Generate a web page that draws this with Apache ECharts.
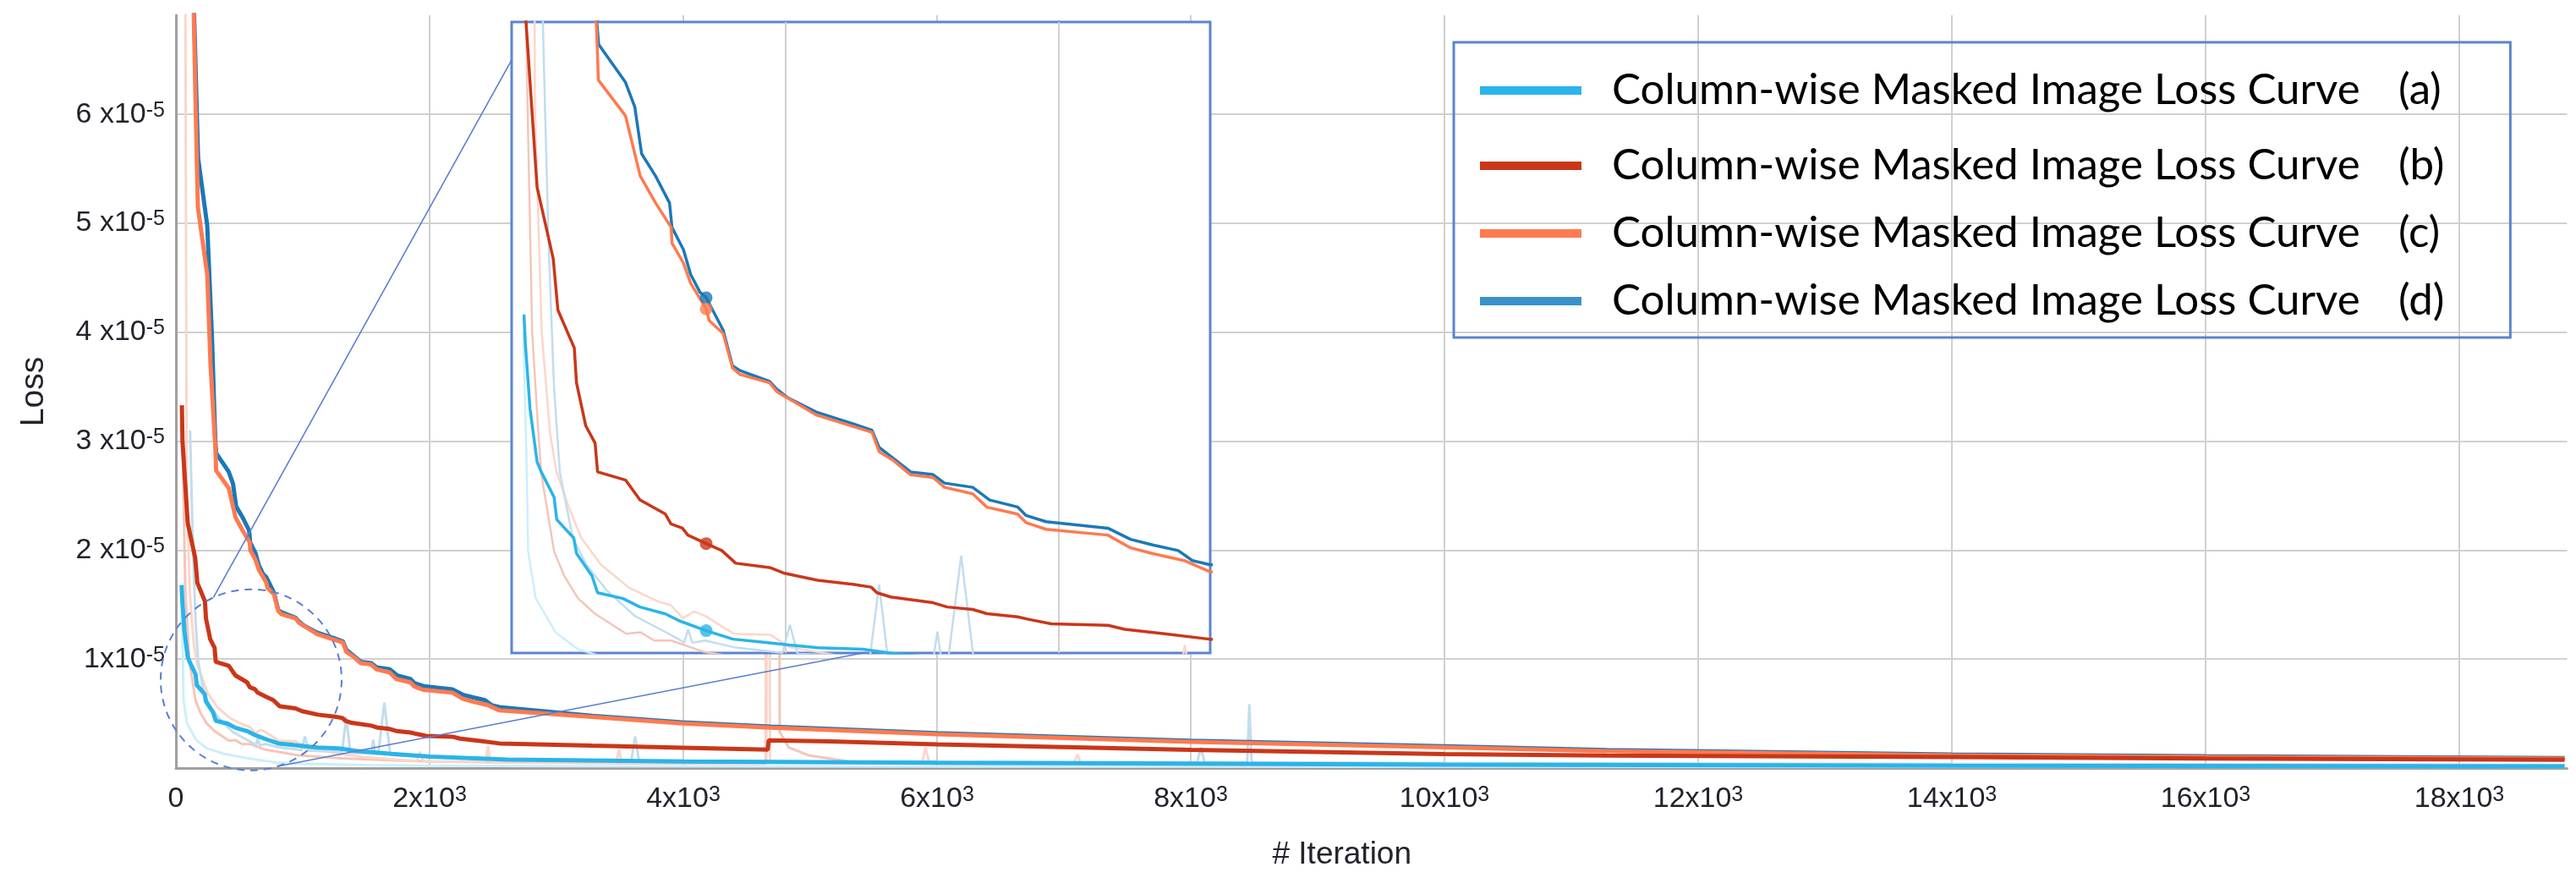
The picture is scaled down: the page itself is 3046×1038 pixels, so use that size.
<!DOCTYPE html>
<html>
<head>
<meta charset="utf-8">
<script src="https://cdn.jsdelivr.net/npm/echarts@6/dist/echarts.min.js"></script>
<style>
html,body{margin:0;padding:0;background:#fff;}
#c{width:3046px;height:1038px;}
</style>
</head>
<body>
<div id="c"></div>
<script>
// ---------------- DATA ----------------
const seriesNames = [
  'Column-wise Masked Image Loss Curve (a)',
  'Column-wise Masked Image Loss Curve (b)',
  'Column-wise Masked Image Loss Curve (c)',
  'Column-wise Masked Image Loss Curve (d)'
];
const xTickValues = [0, 2000, 4000, 6000, 8000, 10000, 12000, 14000, 16000, 18000];
const yTickValues = [1, 2, 3, 4, 5, 6]; // in units of 1e-5
const insetYTicks = [0.2e-5,0.4e-5,0.6e-5,0.8e-5,1.0e-5,1.2e-5,1.4e-5,1.6e-5,1.8e-5,2.0e-5,2.2e-5,2.4e-5,2.6e-5,2.8e-5];

// smoothed curves [iteration, loss]
const lossA = [[45,1.68e-5],[50,1.55e-5],[67,1.26e-5],[93,1.02e-5],[108,0.975e-5],[155,0.862e-5],[165,0.761e-5],[227,0.679e-5],[237,0.61e-5],[294,0.509e-5],[314,0.434e-5],[407,0.408e-5],[469,0.37e-5],[562,0.339e-5],[613,0.308e-5],[711,0.264e-5],[809,0.226e-5],[912,0.213e-5],[1015,0.2e-5],[1118,0.188e-5],[1283,0.181e-5],[1420,0.157e-5],[1700,0.13e-5],[2007,0.104e-5],[2613,0.077e-5],[4000,0.06e-5],[6000,0.049e-5],[8000,0.04e-5],[10000,0.031e-5],[14000,0.022e-5],[18830,0.016e-5]];
const lossB = [[47,3.33e-5],[52,3.0e-5],[93,2.25e-5],[152,1.93e-5],[169,1.70e-5],[229,1.53e-5],[237,1.374e-5],[271,1.181e-5],[305,1.104e-5],[314,0.975e-5],[417,0.938e-5],[469,0.85e-5],[562,0.786e-5],[582,0.742e-5],[624,0.723e-5],[644,0.692e-5],[711,0.654e-5],[768,0.623e-5],[819,0.566e-5],[943,0.547e-5],[994,0.522e-5],[1118,0.49e-5],[1252,0.471e-5],[1314,0.459e-5],[1335,0.434e-5],[1385,0.415e-5],[1540,0.389e-5],[1592,0.37e-5],[1685,0.359e-5],[1737,0.34e-5],[1849,0.326e-5],[1892,0.314e-5],[1972,0.295e-5],[2179,0.288e-5],[2241,0.27e-5],[2386,0.25e-5],[2550,0.226e-5],[3280,0.205e-5],[3993,0.186e-5],[4665,0.168e-5],[4673,0.255e-5],[5153,0.245e-5],[6000,0.218e-5],[8000,0.167e-5],[10000,0.128e-5],[11280,0.114e-5],[14000,0.10e-5],[16000,0.088e-5],[18830,0.076e-5]];
const lossC = [[140,9.0e-5],[141,6.9e-5],[157,6.0e-5],[173,5.15e-5],[247,4.53e-5],[273,3.70e-5],[305,3.05e-5],[310,2.97e-5],[317,2.73e-5],[416,2.57e-5],[470,2.30e-5],[526,2.18e-5],[583,2.07e-5],[586,2.0e-5],[628,1.91e-5],[654,1.82e-5],[711,1.705e-5],[722,1.653e-5],[773,1.595e-5],[807,1.441e-5],[833,1.412e-5],[943,1.374e-5],[969,1.335e-5],[1113,1.23e-5],[1317,1.152e-5],[1343,1.066e-5],[1394,1.027e-5],[1458,0.962e-5],[1540,0.95e-5],[1582,0.906e-5],[1685,0.877e-5],[1737,0.817e-5],[1849,0.786e-5],[1880,0.748e-5],[1953,0.718e-5],[2179,0.692e-5],[2262,0.635e-5],[2343,0.609e-5],[2458,0.578e-5],[2550,0.529e-5],[3280,0.47e-5],[3993,0.41e-5],[4687,0.37e-5],[5153,0.35e-5],[6000,0.31e-5],[8000,0.24e-5],[10000,0.19e-5],[11280,0.155e-5],[14000,0.116e-5],[16000,0.10e-5],[18830,0.085e-5]];
const lossD = [[143,9.0e-5],[144,6.9e-5],[175,5.6e-5],[247,4.98e-5],[285,3.94e-5],[305,3.2e-5],[312,2.98e-5],[318,2.89e-5],[416,2.72e-5],[450,2.61e-5],[475,2.40e-5],[526,2.30e-5],[577,2.18e-5],[586,2.07e-5],[628,1.97e-5],[654,1.86e-5],[688,1.78e-5],[711,1.755e-5],[773,1.61e-5],[807,1.45e-5],[833,1.43e-5],[943,1.38e-5],[969,1.345e-5],[1011,1.306e-5],[1113,1.243e-5],[1249,1.19e-5],[1317,1.162e-5],[1343,1.085e-5],[1394,1.037e-5],[1458,0.975e-5],[1540,0.963e-5],[1582,0.925e-5],[1685,0.906e-5],[1747,0.849e-5],[1849,0.818e-5],[1880,0.78e-5],[1953,0.752e-5],[2179,0.723e-5],[2262,0.673e-5],[2343,0.648e-5],[2436,0.623e-5],[2488,0.578e-5],[2550,0.56e-5],[3280,0.48e-5],[3993,0.42e-5],[4687,0.38e-5],[5153,0.36e-5],[6000,0.32e-5],[8000,0.25e-5],[10000,0.20e-5],[11280,0.165e-5],[14000,0.125e-5],[16000,0.108e-5],[18830,0.092e-5]];

// raw (faint) curves
const rawA = [[42,1.6e-5],[55,1.0e-5],[60,0.62e-5],[88,0.41e-5],[160,0.257e-5],[242,0.181e-5],[380,0.13e-5],[587,0.085e-5],[787,0.05e-5],[1000,0.038e-5],[1500,0.028e-5],[2000,0.022e-5],[3000,0.017e-5],[6000,0.013e-5],[12000,0.011e-5],[18830,0.01e-5]];
const rawB = [[48,3.3e-5],[60,2.5e-5],[75,1.6e-5],[95,1.2e-5],[108,0.97e-5],[155,0.62e-5],[192,0.51e-5],[242,0.41e-5],[304,0.34e-5],[419,0.25e-5],[471,0.257e-5],[521,0.22e-5],[583,0.22e-5],[700,0.17e-5],[967,0.116e-5],[1300,0.09e-5],[1600,0.075e-5],[2000,0.06e-5],[2700,0.05e-5],[3500,0.045e-5],[4650,0.04e-5],[4660,6.5e-5],[4750,6.5e-5],[4760,0.33e-5],[4830,0.19e-5],[4990,0.116e-5],[5380,0.047e-5],[7000,0.035e-5],[10000,0.028e-5],[18830,0.02e-5]];
const rawC = [[70,9.0e-5],[85,2.6e-5],[110,1.6e-5],[140,1.15e-5],[164,0.975e-5],[208,0.82e-5],[254,0.68e-5],[326,0.56e-5],[428,0.457e-5],[533,0.396e-5],[583,0.377e-5],[626,0.32e-5],[667,0.35e-5],[707,0.33e-5],[812,0.25e-5],[946,0.245e-5],[1017,0.19e-5],[1300,0.13e-5],[1480,0.1e-5],[1900,0.065e-5],[1924,0.15e-5],[1950,0.062e-5],[2440,0.055e-5],[2460,0.2e-5],[2480,0.055e-5],[3470,0.05e-5],[3493,0.17e-5],[3515,0.05e-5],[4655,0.045e-5],[4662,6.5e-5],[4676,6.5e-5],[4683,0.05e-5],[5880,0.04e-5],[5910,0.19e-5],[5940,0.04e-5],[7080,0.038e-5],[7107,0.127e-5],[7135,0.037e-5],[10000,0.03e-5],[18830,0.022e-5]];
const rawD = [[112,3.1e-5],[122,2.6e-5],[135,2.0e-5],[155,1.35e-5],[176,0.975e-5],[223,0.68e-5],[273,0.56e-5],[347,0.445e-5],[450,0.33e-5],[543,0.27e-5],[605,0.23e-5],[630,0.21e-5],[645,0.27e-5],[660,0.21e-5],[707,0.22e-5],[812,0.19e-5],[990,0.165e-5],[1017,0.29e-5],[1045,0.16e-5],[1310,0.15e-5],[1343,0.47e-5],[1375,0.14e-5],[1541,0.135e-5],[1556,0.26e-5],[1571,0.13e-5],[1595,0.13e-5],[1643,0.6e-5],[1690,0.12e-5],[2000,0.1e-5],[2700,0.08e-5],[3590,0.07e-5],[3620,0.29e-5],[3650,0.07e-5],[5000,0.06e-5],[8050,0.05e-5],[8080,0.19e-5],[8110,0.05e-5],[8445,0.05e-5],[8462,0.585e-5],[8480,0.05e-5],[12000,0.04e-5],[18830,0.03e-5]];

const hoverIteration = 711;              // highlighted point in the inset
const zoomCircleCenter = [593, 0.81e-5]; // main-plot data coords of dashed circle
const insetUpperAnchor = [0, 2.82e-5];   // inset data coords
const insetLowerAnchor = [1283, 0.164e-5];

// ---------------- STYLE ----------------
const colors = ['#2ab4e9', '#c9371a', '#ff7a50', '#1c78b8'];
const rawColors = ['#cdeefb', '#f3c6b9', '#fcd6ca', '#c2dded'];
const FONT = 'Liberation Sans';
const LBL = '#23232d';
const GRIDC = '#d0d0d0';
const rich = {
  m: {fontSize: 34, fontFamily: FONT, color: LBL, lineHeight: 34, padding: [11, 0, 11, 0]},
  s: {fontSize: 25, fontFamily: FONT, color: LBL, lineHeight: 25, verticalAlign: 'top'}
};
const legendRich = {
  n: {fontSize: 51, fontFamily: 'Lato', color: '#000', width: 930},
  t: {fontSize: 51, fontFamily: 'Lato', color: '#000'}
};

function valueAt(data, x) {
  for (let i = 1; i < data.length; i++) {
    if (data[i][0] >= x) {
      const [x0, y0] = data[i - 1], [x1, y1] = data[i];
      return y0 + (y1 - y0) * (x - x0) / (x1 - x0);
    }
  }
  return data[data.length - 1][1];
}

const chart = echarts.init(document.getElementById('c'), null, {renderer: 'canvas', width: 3046, height: 1038});

const mainData = [lossA, lossB, lossC, lossD];
const rawData = [rawA, rawB, rawC, rawD];
const series = [];
rawData.forEach((d, i) => series.push({
  type: 'line', xAxisIndex: 0, yAxisIndex: 0, data: d, showSymbol: false, silent: true,
  lineStyle: {color: rawColors[i], width: 3}, z: 2
}));
[3, 2, 1, 0].forEach(i => series.push({
  type: 'line', name: seriesNames[i], xAxisIndex: 0, yAxisIndex: 0, data: mainData[i],
  showSymbol: false, silent: true, color: colors[i], lineStyle: {color: colors[i], width: 5}, z: 3
}));
rawData.forEach((d, i) => series.push({
  type: 'line', xAxisIndex: 1, yAxisIndex: 1, data: d, showSymbol: false, silent: true,
  lineStyle: {color: rawColors[i], width: 2.5}, z: 12,
  markLine: i === 0 ? {
    silent: true, symbol: 'none', label: {show: false}, animation: false,
    lineStyle: {color: GRIDC, width: 2, type: 'solid'},
    data: insetYTicks.map(v => ({yAxis: v}))
  } : undefined
}));
[3, 2, 1, 0].forEach(i => series.push({
  type: 'line', name: seriesNames[i], xAxisIndex: 1, yAxisIndex: 1, data: mainData[i],
  showSymbol: false, silent: true, color: colors[i], lineStyle: {color: colors[i], width: 3.5}, z: 13
}));
[3, 2, 1, 0].forEach(i => series.push({
  type: 'scatter', xAxisIndex: 1, yAxisIndex: 1, silent: true, symbolSize: 15, z: 14,
  itemStyle: {color: colors[i]},
  data: [[hoverIteration, valueAt(mainData[i], hoverIteration)]]
}));

const option = {
  backgroundColor: '#fff',
  animation: false,
  textStyle: {fontFamily: FONT},
  grid: [
    {left: 208, top: 18, right: 10.5, bottom: 130},
    {left: 605, top: 26, width: 826, height: 746, show: true, backgroundColor: '#fff',
     borderColor: '#5b85cf', borderWidth: 3, z: 10}
  ],
  xAxis: [
    {type: 'value', gridIndex: 0, min: 0, max: 18850, interval: 2000,
     axisLine: {show: true, onZero: false, lineStyle: {color: '#a0a0a0', width: 3}},
     axisTick: {show: false},
     splitLine: {show: true, showMinLine: false, showMaxLine: false, lineStyle: {color: GRIDC, width: 2}},
     axisLabel: {showMaxLabel: false, margin: 20, rich: rich,
       formatter: v => {
         if (xTickValues.indexOf(v) < 0) return '';
         return v === 0 ? '{m|0}' : '{m|' + (v / 1000) + 'x10}{s|3}';
       }},
     name: '# Iteration', nameLocation: 'middle', nameGap: 84,
     nameTextStyle: {fontSize: 37, fontFamily: FONT, color: LBL, padding: [0, 70, 0, 0]}
    },
    {type: 'value', gridIndex: 1, min: 0, max: 2553, interval: 1000, z: 11,
     axisLine: {show: false}, axisTick: {show: false}, axisLabel: {show: false},
     splitLine: {show: true, showMinLine: false, showMaxLine: false, lineStyle: {color: GRIDC, width: 2}}
    }
  ],
  yAxis: [
    {type: 'value', gridIndex: 0, min: 0, max: 6.91e-5, interval: 1e-5,
     axisLine: {show: true, lineStyle: {color: '#a0a0a0', width: 3}},
     axisTick: {show: false},
     splitLine: {show: true, showMinLine: false, showMaxLine: false, lineStyle: {color: GRIDC, width: 2}},
     axisLabel: {showMinLabel: false, showMaxLabel: false, margin: 13, rich: rich,
       formatter: v => {
         const n = Math.round(v / 1e-5);
         if (Math.abs(v - n * 1e-5) > 1e-9 || yTickValues.indexOf(n) < 0) return '';
         return '{m|' + n + (n === 1 ? 'x10' : ' x10') + '}{s|-5}';
       }},
     name: 'Loss', nameLocation: 'middle', nameGap: 148,
     nameTextStyle: {fontSize: 39, fontFamily: FONT, color: LBL}
    },
    {type: 'value', gridIndex: 1, min: 0.164e-5, max: 2.99e-5, z: 11,
     axisLine: {show: false}, axisTick: {show: false}, axisLabel: {show: false}, splitLine: {show: false}
    }
  ],
  legend: {
    orient: 'vertical', left: 1719, top: 50, padding: [19, 78, 14, 31],
    borderColor: '#5b85cf', borderWidth: 3, itemWidth: 120, itemHeight: 10, itemGap: 22,
    icon: 'rect', selectedMode: false,
    data: [
      {name: seriesNames[0], textStyle: {lineHeight: 76}},
      {name: seriesNames[1]},
      {name: seriesNames[2]},
      {name: seriesNames[3], itemStyle: {color: '#3a92ca'}}
    ],
    formatter: name => {
      const m = name.match(/^(.*)\s+(\(\w\))$/);
      return '{n|' + m[1] + '}{t|' + m[2] + '}';
    },
    textStyle: {padding: [0, 0, 0, 31], lineHeight: 58, rich: legendRich}
  },
  series: series
};
chart.setOption(option);

// annotation: dashed circle + connector lines, anchored through the axes
const c = chart.convertToPixel({gridIndex: 0}, zoomCircleCenter);
const r = 107;
const a1 = Math.atan2(-96, -44), a2 = Math.atan2(105, 32);
const up = chart.convertToPixel({xAxisIndex: 1, yAxisIndex: 1}, insetUpperAnchor);
const lo = chart.convertToPixel({xAxisIndex: 1, yAxisIndex: 1}, insetLowerAnchor);
chart.setOption({
  graphic: [
    {type: 'circle', z: 20, silent: true, shape: {cx: c[0], cy: c[1], r: r},
     style: {fill: 'none', stroke: '#5a7fd0', lineWidth: 2, lineDash: [9, 7]}},
    {type: 'line', z: 20, silent: true,
     shape: {x1: c[0] + r * Math.cos(a1), y1: c[1] + r * Math.sin(a1), x2: up[0], y2: up[1]},
     style: {stroke: '#5a7fd0', lineWidth: 1.6}},
    {type: 'line', z: 20, silent: true,
     shape: {x1: c[0] + r * Math.cos(a2), y1: c[1] + r * Math.sin(a2), x2: lo[0], y2: lo[1]},
     style: {stroke: '#5a7fd0', lineWidth: 1.6}}
  ]
});
</script>
</body>
</html>
